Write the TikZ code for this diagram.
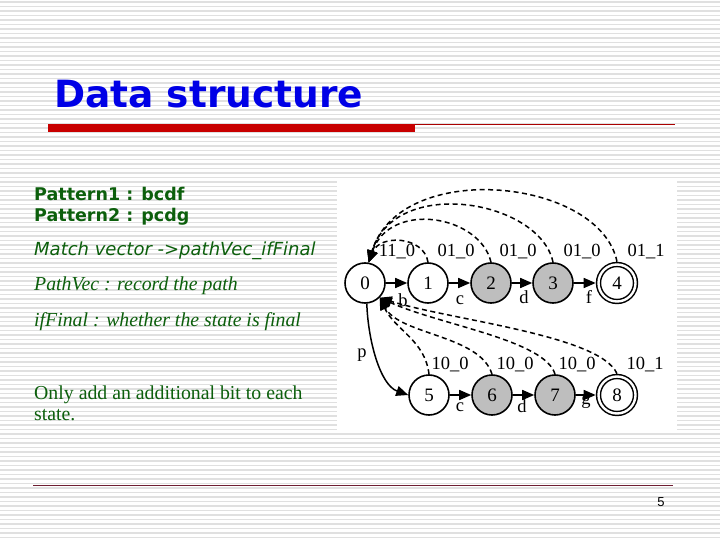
\documentclass[tikz,border=0pt]{standalone}
\usepackage{fontspec}
\setmainfont{Liberation Serif}
\newfontfamily\verd{DejaVu Sans}
\newfontfamily\arialf{Liberation Sans}
\usetikzlibrary{arrows.meta}
\definecolor{ttblue}{RGB}{0,0,230}
\definecolor{ttred}{RGB}{200,0,0}
\definecolor{txtgreen}{RGB}{12,95,12}
\definecolor{stripe}{RGB}{224,224,224}
\definecolor{ngray}{RGB}{190,190,190}
\definecolor{linemaroon}{RGB}{110,30,50}
\begin{document}
\begin{tikzpicture}[x=1pt,y=-1pt,
  st/.style={circle,draw,line width=1.6pt,minimum size=40pt,inner sep=0pt,font=\fontsize{19}{19}\selectfont},
  gst/.style={st,fill=ngray},
  acc/.style={st,double,double distance=2.4pt,line width=1.5pt,minimum size=37pt,outer sep=2.8pt},
  tr/.style={-{Triangle[length=12pt,width=10pt]},line width=1.5pt},
  back/.style={tr,dash pattern=on 5pt off 3.5pt},
  elab/.style={font=\fontsize{18.5}{18.5}\selectfont,inner sep=0pt},
  gtext/.style={anchor=base west,text=txtgreen,inner sep=0pt}
]
\useasboundingbox (0,0) rectangle (720,540);
\fill[white] (0,0) rectangle (720,540);
\foreach \y in {2,6.5,...,540} \draw[stripe,line width=1.2pt] (0,\y) -- (720,\y);
% title
\node[anchor=base west,text=ttblue,inner sep=0pt,font=\verd\bfseries\fontsize{37.5}{40}\selectfont] (title) at (54,108) {Data structure};
\fill[ttred] (48,124) rectangle (415,132);
\draw[ttred!85!black,line width=0.8pt] (415,124.5) -- (675,124.5);
\draw[linemaroon,line width=1pt] (33,485.5) -- (673,485.5);
\node[font=\arialf\fontsize{13}{13}\selectfont,inner sep=0pt] (pg) at (661,502) {5};
% left text
\node[gtext,font=\verd\bfseries\fontsize{17.5}{18}\selectfont] (p1) at (34,200.5) {Pattern1 : bcdf};
\node[gtext,font=\verd\bfseries\fontsize{17.5}{18}\selectfont] (p2) at (34,222) {Pattern2 : pcdg};
\node[gtext,font=\verd\itshape\fontsize{18}{18}\selectfont] (mv) at (34,255) {Match vector ->pathVec\_ifFinal};
\node[gtext,font=\itshape\fontsize{19.8}{20}\selectfont] (pv) at (34,290) {PathVec : record the path};
\node[gtext,font=\itshape\fontsize{19.8}{20}\selectfont] (iff) at (34,326) {ifFinal : whether the state is final};
\node[gtext,font=\fontsize{19.8}{20}\selectfont] (oa) at (34,399) {Only add an additional bit to each};
\node[gtext,font=\fontsize{19.8}{20}\selectfont] (oa2) at (34,420) {state.};
% graph box
\fill[white] (337,178) rectangle (677,432);
\node[st] (n0) at (365,283) {0};
\node[st] (n1) at (428,283) {1};
\node[gst] (n2) at (491,283) {2};
\node[gst] (n3) at (553,283) {3};
\node[acc] (n4) at (617,283) {4};
\node[st] (n5) at (429,395) {5};
\node[gst] (n6) at (492,395) {6};
\node[gst] (n7) at (555,395) {7};
\node[acc] (n8) at (617,395) {8};
% forward edges
\draw[tr] (n0) -- (n1);
\draw[tr] (n1) -- (n2);
\draw[tr] (n2) -- (n3);
\draw[tr] (n3) -- (n4);
\draw[tr] (n5) -- (n6);
\draw[tr] (n6) -- (n7);
\draw[tr] (n7) -- (n8);
\draw[tr] (n0.-85) .. controls (368,340) and (380,385) .. (n5.west);
% back edges top
\draw[back] (n1.north) .. controls (424,236) and (380,234) .. (n0.80);
\draw[back] (n2.north) .. controls (480,215) and (390,200) .. (n0.80);
\draw[back] (n3.north) .. controls (540,200) and (395,175) .. (n0.80);
\draw[back] (n4.north) .. controls (600,178) and (400,158) .. (n0.80);
% back edges bottom
\draw[back] (n5.north) .. controls (425,340) and (395,330) .. (n0.-45);
\draw[back] (n6.north) .. controls (480,335) and (400,335) .. (n0.-45);
\draw[back] (n7.north) .. controls (545,340) and (440,325) .. (n0.-45);
\draw[back] (n8.north) .. controls (600,335) and (450,320) .. (n0.-45);
% labels
\node[elab] (l10) at (397,252) {11\_0};
\node[elab] (l20) at (456,252) {01\_0};
\node[elab] (l30) at (518,252) {01\_0};
\node[elab] (l40) at (582,252) {01\_0};
\node[elab] (l50) at (646,252) {01\_1};
\node[elab] (m1) at (450,365) {10\_0};
\node[elab] (m2) at (515,365) {10\_0};
\node[elab] (m3) at (577,365) {10\_0};
\node[elab] (m4) at (645,365) {10\_1};
\node[elab] (eb) at (403,300) {b};
\node[elab] (ec) at (460,300) {c};
\node[elab] (ed) at (524,297) {d};
\node[elab] (ef) at (589,297) {f};
\node[elab] (ec2) at (460,407) {c};
\node[elab] (ed2) at (522,406) {d};
\node[elab] (eg) at (586,402) {g};
\node[elab] (ep) at (362,355) {p};
\end{tikzpicture}
\end{document}
